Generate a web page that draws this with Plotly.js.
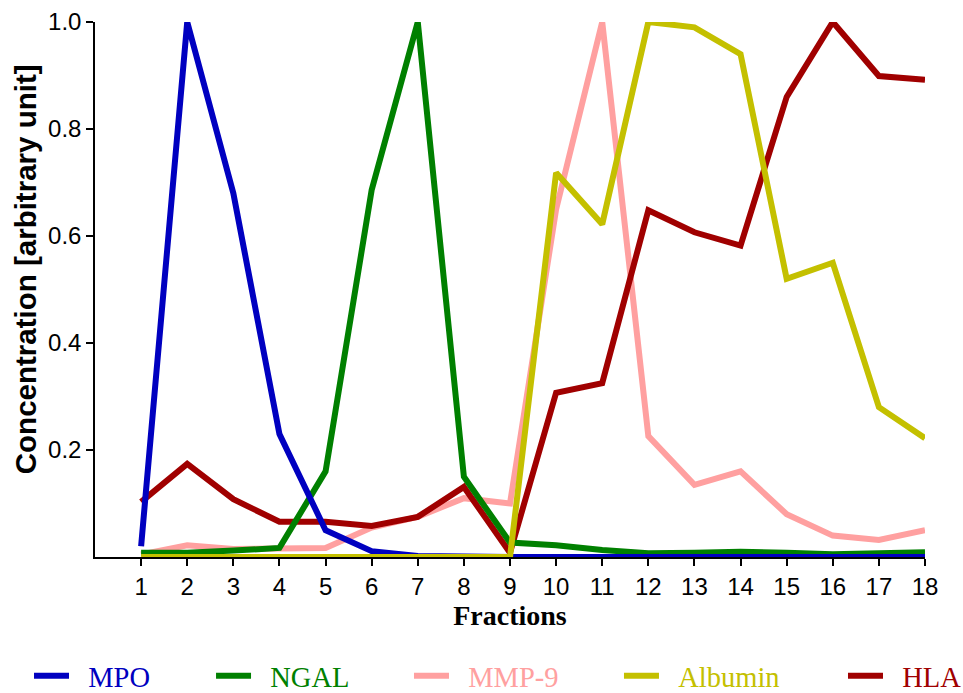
<!DOCTYPE html>
<html>
<head>
<meta charset="utf-8">
<script src="https://cdn.plot.ly/plotly-3.0.1.min.js"></script>
<style>
  html, body { margin: 0; padding: 0; background: #ffffff; }
  #chart { width: 963px; height: 693px; }
</style>
</head>
<body>
<div id="chart"></div>
<script>
// Fraction numbers along the x axis
const fractions = [1, 2, 3, 4, 5, 6, 7, 8, 9, 10, 11, 12, 13, 14, 15, 16, 17, 18];

// Relative concentration of each marker per fraction
const mpo     = [0.02, 1.0, 0.68, 0.23, 0.05, 0.011, 0.002, 0, 0, 0, 0, 0, 0, 0, 0, 0, 0, 0];
const ngal    = [0.008, 0.008, 0.012, 0.017, 0.16, 0.686, 1.0, 0.15, 0.027, 0.022, 0.013, 0.007, 0.008, 0.01, 0.008, 0.005, 0.007, 0.009];
const mmp9    = [0.005, 0.022, 0.015, 0.017, 0.017, 0.055, 0.075, 0.11, 0.10, 0.65, 1.0, 0.226, 0.135, 0.16, 0.08, 0.04, 0.032, 0.05];
const albumin = [0, 0, 0, 0, 0, 0, 0, 0, 0, 0.718, 0.622, 1.0, 0.99, 0.94, 0.52, 0.55, 0.28, 0.222];
const hla     = [0.103, 0.174, 0.108, 0.066, 0.066, 0.058, 0.075, 0.131, 0.008, 0.307, 0.325, 0.648, 0.607, 0.582, 0.86, 1.0, 0.899, 0.892];

// Axis tick labels
const yTickVals = [0.2, 0.4, 0.6, 0.8, 1.0];
const yTickText = ['0.2', '0.4', '0.6', '0.8', '1.0'];

// Series definitions (listed in drawing order: later ones sit on top)
const series = [
  { name: 'MMP-9',   y: mmp9,    color: '#FFA0A0', legend: 'legend3' },
  { name: 'HLA',     y: hla,     color: '#A00000', legend: 'legend5' },
  { name: 'NGAL',    y: ngal,    color: '#008000', legend: 'legend2' },
  { name: 'MPO',     y: mpo,     color: '#0000C0', legend: 'legend'  },
  { name: 'Albumin', y: albumin, color: '#C4C000', legend: 'legend4' }
];

const traces = series.map(s => ({
  type: 'scatter',
  mode: 'lines',
  x: fractions,
  y: s.y,
  name: '\u00a0\u00a0' + s.name,
  legend: s.legend,
  line: { color: s.color, width: 6 },
  hoverinfo: 'x+y+name'
}));

// One legend per series so each entry sits at its own spot along the bottom row
function legendAt(x, color) {
  return {
    orientation: 'h',
    x: x, xanchor: 'left',
    y: -0.223, yanchor: 'middle',
    itemwidth: 35,
    bgcolor: 'rgba(0,0,0,0)',
    borderwidth: 0,
    font: { family: 'Liberation Serif, Times New Roman, serif', size: 28.5, color: color }
  };
}

const layout = {
  width: 963,
  height: 693,
  paper_bgcolor: '#ffffff',
  plot_bgcolor: '#ffffff',
  margin: { l: 95, r: 38, t: 22, b: 136, autoexpand: false },
  showlegend: true,
  legend:  legendAt(-0.0795, '#0000C0'),
  legend2: legendAt(0.1398, '#008000'),
  legend3: legendAt(0.3783, '#FFA0A0'),
  legend4: legendAt(0.6313, '#C4C000'),
  legend5: legendAt(0.9012, '#A00000'),
  xaxis: {
    range: [0, 18],
    tickmode: 'array',
    tickvals: fractions,
    ticktext: fractions.map(String),
    ticks: 'outside',
    ticklen: 7,
    tickwidth: 1.5,
    tickcolor: '#000000',
    showline: true,
    linecolor: '#000000',
    linewidth: 1.5,
    showgrid: false,
    zeroline: false,
    tickfont: { family: 'Liberation Sans, Arial, sans-serif', size: 24, color: '#000000' },
    title: {
      text: 'Fractions',
      standoff: 0,
      font: { family: 'Liberation Serif, Times New Roman, serif', size: 28, color: '#000000', weight: 700 }
    }
  },
  yaxis: {
    range: [0, 1],
    tickmode: 'array',
    tickvals: yTickVals,
    ticktext: yTickText,
    ticks: 'outside',
    ticklen: 7,
    tickwidth: 1.5,
    tickcolor: '#000000',
    showline: true,
    linecolor: '#000000',
    linewidth: 1.5,
    showgrid: false,
    zeroline: false,
    tickfont: { family: 'Liberation Sans, Arial, sans-serif', size: 24, color: '#000000' }
  },
  // Vertical axis label, set a little above the plot's centre
  annotations: [{
    text: 'Concentration [arbitrary unit]',
    xref: 'paper', yref: 'paper',
    x: -0.0843, y: 0.538,
    xanchor: 'center', yanchor: 'middle',
    textangle: -90,
    showarrow: false,
    font: { family: 'Liberation Sans, Arial, sans-serif', size: 29.5, color: '#000000', weight: 700 }
  }]
};

Plotly.newPlot('chart', traces, layout, { displayModeBar: false, responsive: false });
</script>
</body>
</html>
